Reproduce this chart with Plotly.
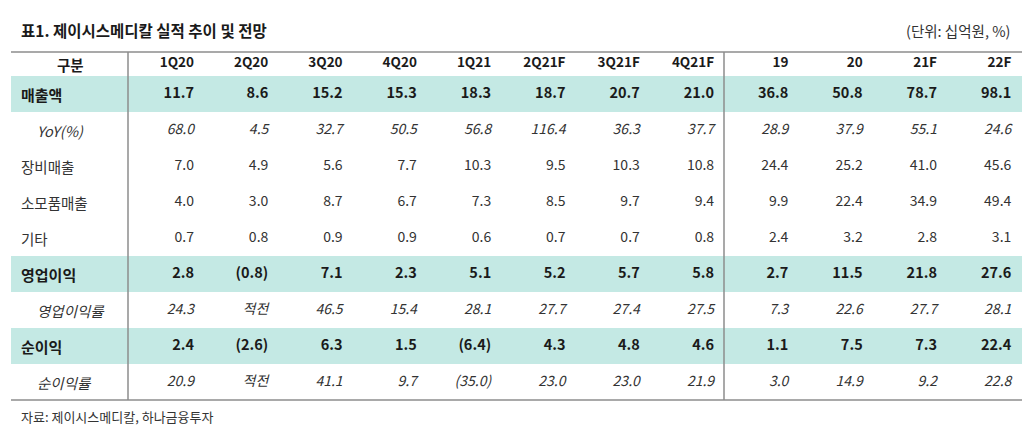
"""제이시스메디칼 실적 추이 및 전망 table drawn with Plotly text traces."""

import plotly.graph_objects as go

# Column headers (quarters, then years)
columns = ["1Q20", "2Q20", "3Q20", "4Q20", "1Q21", "2Q21F", "3Q21F", "4Q21F",
           "19", "20", "21F", "22F"]

row_labels = ["매출액", "YoY(%)", "장비매출", "소모품매출", "기타",
              "영업이익", "영업이익률", "순이익", "순이익률"]

# values per row (None = 적전)
sales = [11.7, 8.6, 15.2, 15.3, 18.3, 18.7, 20.7, 21.0, 36.8, 50.8, 78.7, 98.1]
sales_yoy = [68.0, 4.5, 32.7, 50.5, 56.8, 116.4, 36.3, 37.7, 28.9, 37.9, 55.1, 24.6]
equipment = [7.0, 4.9, 5.6, 7.7, 10.3, 9.5, 10.3, 10.8, 24.4, 25.2, 41.0, 45.6]
consumables = [4.0, 3.0, 8.7, 6.7, 7.3, 8.5, 9.7, 9.4, 9.9, 22.4, 34.9, 49.4]
other = [0.7, 0.8, 0.9, 0.9, 0.6, 0.7, 0.7, 0.8, 2.4, 3.2, 2.8, 3.1]
op_profit = [2.8, -0.8, 7.1, 2.3, 5.1, 5.2, 5.7, 5.8, 2.7, 11.5, 21.8, 27.6]
op_margin = [24.3, None, 46.5, 15.4, 28.1, 27.7, 27.4, 27.5, 7.3, 22.6, 27.7, 28.1]
net_profit = [2.4, -2.6, 6.3, 1.5, -6.4, 4.3, 4.8, 4.6, 1.1, 7.5, 7.3, 22.4]
net_margin = [20.9, None, 41.1, 9.7, -35.0, 23.0, 23.0, 21.9, 3.0, 14.9, 9.2, 22.8]

rows = [sales, sales_yoy, equipment, consumables, other,
        op_profit, op_margin, net_profit, net_margin]

BAND = "#C4E9E4"
TEXT = "#1a1a1a"
GREY = "#333333"
FONT = "Noto Sans CJK KR"

# the page body has an 8px margin, so the figure is shrunk and every
# reference pixel position is shifted by OFF
OFF = 8
W, H = 1030 - OFF, 437 - OFF


def px(x):
    return (x - OFF) / W


def py(y):
    return 1 - (y - OFF) / H


def fmt(v):
    if v is None:
        return "적전"
    if v < 0:
        return f"({abs(v):.1f})"
    return f"{v:.1f}"


fig = go.Figure()

cols_x = list(range(len(columns)))

# highlighted rows (bold, teal band)
bold_rows = {0, 5, 7}
italic_rows = {1, 6, 8}

for r, vals in enumerate(rows):
    if r in bold_rows:
        fig.add_shape(type="rect", xref="paper", yref="y",
                      x0=px(11), x1=px(1022), y0=r - 0.5, y1=r + 0.5,
                      fillcolor=BAND, line_width=0, layer="below")
    fig.add_trace(go.Scatter(
        x=cols_x,
        y=[r] * len(vals),
        mode="text",
        text=[fmt(v) for v in vals],
        textposition="middle left",
        textfont=dict(
            family=FONT,
            size=14.5 if r in bold_rows else 14,
            color=TEXT if r in bold_rows else GREY,
            weight="bold" if r in bold_rows else "normal",
            style="italic" if r in italic_rows else "normal",
        ),
        hoverinfo="skip",
        showlegend=False,
    ))

    # row label
    fig.add_annotation(
        xref="paper", yref="y",
        x=px(35 if r in italic_rows else 19), y=r,
        xanchor="left", yanchor="middle", showarrow=False,
        text=row_labels[r],
        font=dict(family=FONT, size=15 if r in bold_rows else 14.5,
                  color=TEXT if r in bold_rows else GREY,
                  weight="bold" if r in bold_rows else "normal",
                  style="italic" if r in italic_rows else "normal"),
    )

# header row
header_y = -30 / 36
fig.add_trace(go.Scatter(
    x=cols_x,
    y=[header_y] * len(columns),
    mode="text",
    text=columns,
    textposition="middle left",
    textfont=dict(family=FONT, size=13.5, color=TEXT, weight="bold"),
    hoverinfo="skip",
    showlegend=False,
))
fig.add_annotation(xref="paper", yref="y", x=px(70), y=header_y,
                   xanchor="center", yanchor="middle", showarrow=False,
                   text="구분",
                   font=dict(family=FONT, size=14.5, color=TEXT, weight="bold"))

# rules
top_y = header_y - 12 / 36
bottom_y = len(rows) - 0.5
for y in (top_y, bottom_y):
    fig.add_shape(type="line", xref="paper", yref="y",
                  x0=px(11), x1=px(1022), y0=y, y1=y,
                  line=dict(color="#8c8c8c", width=1.5))
for xp in (128, 724):
    fig.add_shape(type="line", xref="paper", yref="y",
                  x0=px(xp), x1=px(xp), y0=top_y, y1=bottom_y,
                  line=dict(color="#8c8c8c", width=1.5))

# title, unit, source
fig.add_annotation(xref="paper", yref="paper", x=px(19), y=py(30),
                   xanchor="left", yanchor="middle", showarrow=False,
                   text="표1. 제이시스메디칼 실적 추이 및 전망",
                   font=dict(family=FONT, size=15.5, color=TEXT, weight="bold"))
fig.add_annotation(xref="paper", yref="paper", x=px(1012), y=py(30),
                   xanchor="right", yanchor="middle", showarrow=False,
                   text="(단위: 십억원, %)",
                   font=dict(family=FONT, size=14.5, color=GREY))
fig.add_annotation(xref="paper", yref="paper", x=px(19), y=py(416),
                   xanchor="left", yanchor="middle", showarrow=False,
                   text="자료: 제이시스메디칼, 하나금융투자",
                   font=dict(family=FONT, size=13, color=GREY))

# axes map column/row index to reference pixels:
# col px = 193 + 74.3*i, row px = 94 + 36*r
x_step, x0_px = 74.3, 194 - OFF
y_step, y0_px = 36, 94 - OFF
fig.update_layout(
    width=W, height=H,
    margin=dict(l=0, r=0, t=0, b=0),
    plot_bgcolor="white", paper_bgcolor="white",
    xaxis=dict(range=[-x0_px / x_step, (W - x0_px) / x_step],
               visible=False, fixedrange=True),
    yaxis=dict(range=[(H - y0_px) / y_step, -y0_px / y_step],
               visible=False, fixedrange=True),
    font=dict(family=FONT),
)

fig.write_html("out.html", config={"displayModeBar": False})
